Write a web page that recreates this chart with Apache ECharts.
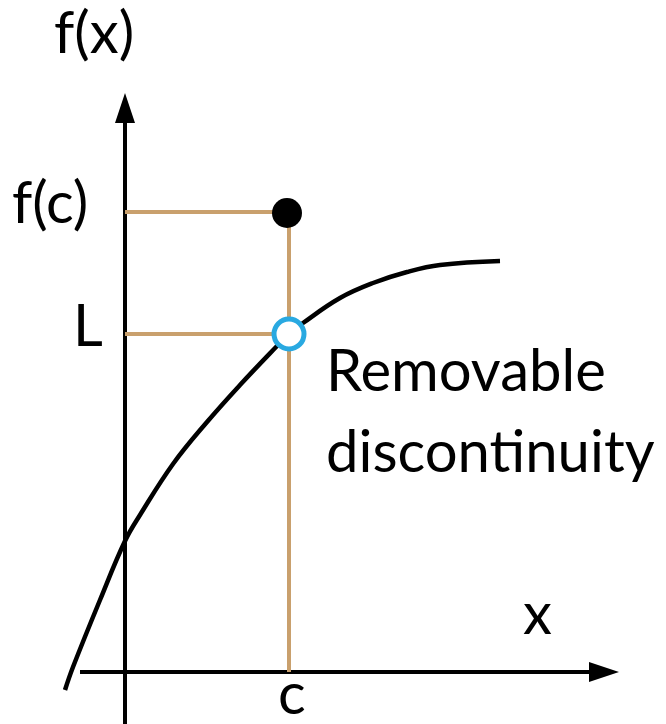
<!DOCTYPE html>
<html>
<head>
<meta charset="utf-8">
<script src="https://cdn.jsdelivr.net/npm/echarts@6/dist/echarts.min.js"></script>
<style>
  html, body { margin: 0; padding: 0; background: #fff; }
  #chart { width: 666px; height: 724px; }
</style>
</head>
<body>
<div id="chart"></div>
<script>
// coordinates are measured from the axes crossing, in picture pixels
const c = 164
const fc = 460
const L = 338

// curve points
const curveX = [-60, -52, -25, 0, 15, 48, 82, 115, 152, 164, 178, 215, 248, 282, 315, 375]
const curveY = [-18, 5, 72, 131, 157, 208, 250, 287, 326, 338, 349, 374, 389, 400, 407, 411]

// axis lines: start and arrow head centre
const xAxisEnds = [-45, 479]
const yAxisEnds = [-55, 564]

const font = 'Lato, "Noto Sans", sans-serif'
const tan = '#c9a06d'

const chart = echarts.init(document.getElementById('chart'))

const curve = curveX.map((x, i) => [x, curveY[i]])

const label = (text, left, top) => ({
  type: 'text', left, top,
  style: { text, font: '58px ' + font, fill: '#000' }
})

chart.setOption({
  animation: false,
  grid: { left: 0, right: 0, top: 0, bottom: 0 },
  xAxis: { type: 'value', min: -125, max: 541, show: false },
  yAxis: { type: 'value', min: -52, max: 672, show: false },
  series: [
    {
      type: 'line',
      data: [[xAxisEnds[0], 0], [xAxisEnds[1], 0]],
      symbol: 'none',
      lineStyle: { color: '#000', width: 4 },
      z: 1
    },
    {
      type: 'line',
      data: [[0, yAxisEnds[0]], [0, yAxisEnds[1]]],
      symbol: 'none',
      lineStyle: { color: '#000', width: 4 },
      z: 1
    },
    {
      // arrow heads
      type: 'scatter',
      data: [
        { value: [xAxisEnds[1], 0], symbolRotate: -90 },
        { value: [0, yAxisEnds[1]], symbolRotate: 0 }
      ],
      symbol: 'triangle',
      symbolSize: [20, 30],
      itemStyle: { color: '#000', opacity: 1 },
      z: 1
    },
    {
      // guide to f(c)
      type: 'line',
      data: [[0, fc], [c, fc], [c, 0]],
      symbol: 'none',
      lineStyle: { color: tan, width: 4 },
      z: 2
    },
    {
      // guide to L
      type: 'line',
      data: [[0, L], [c, L]],
      symbol: 'none',
      lineStyle: { color: tan, width: 4 },
      z: 2
    },
    {
      type: 'line',
      data: curve,
      smooth: 0.4,
      symbol: 'none',
      lineStyle: { color: '#000', width: 4.5 },
      z: 3
    },
    {
      type: 'scatter',
      data: [[c, L]],
      symbolSize: 30,
      itemStyle: { color: '#fff', borderColor: '#29a9e1', borderWidth: 5, opacity: 1 },
      z: 4
    },
    {
      type: 'scatter',
      data: [[c - 2, fc - 1]],
      symbolSize: 30,
      itemStyle: { color: '#000', opacity: 1 },
      z: 4
    }
  ],
  graphic: [
    label('f(x)', 54, 5),
    label('f(c)', 12, 175),
    label('L', 73, 298),
    label('c', 278, 666),
    label('x', 523, 586),
    {
      type: 'text', left: 326, top: 332,
      style: { text: 'Removable\ndiscontinuity', font: '58px ' + font, fill: '#000', lineHeight: 81 }
    }
  ]
})
</script>
</body>
</html>
